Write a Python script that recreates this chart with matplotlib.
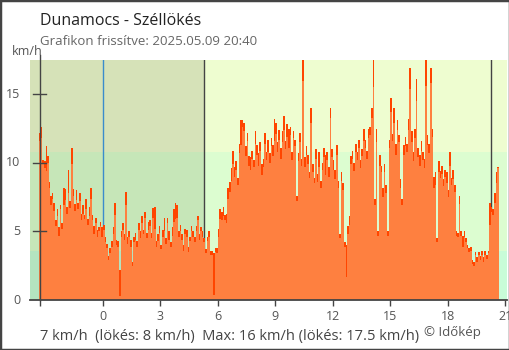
import numpy as np
import matplotlib
matplotlib.use("Agg")
import matplotlib.pyplot as plt
from matplotlib.patches import Rectangle
from matplotlib.lines import Line2D

plt.rcParams['font.family'] = ['Open Sans', 'DejaVu Sans']

# 5-minute wind data, 20:40 previous day -> 20:40 (hours relative to midnight)
start_hour = -10 / 3
step_hour = 5 / 60

speed = [
    11.6, 11.8, 9.9, 9.6, 9.4, 10.0, 8.2, 6.9, 7.4, 6.5, 5.4, 6.1,
    4.7, 6.6, 5.2, 6.9, 7.3, 6.3, 7.8, 6.7, 9.9, 7.6, 6.5, 7.3,
    6.6, 7.2, 5.8, 6.3, 5.9, 6.6, 5.5, 6.1, 7.4, 5.8, 4.8, 5.6,
    4.6, 5.0, 5.4, 4.6, 5.1, 4.2, 3.8, 2.9, 3.4, 3.9, 4.8, 6.2,
    4.0, 3.9, 0.3, 4.6, 5.1, 4.4, 6.9, 4.1, 4.6, 3.9, 2.5, 4.2,
    4.4, 3.9, 5.1, 4.5, 5.6, 4.8, 6.0, 4.5, 5.1, 5.4, 4.5, 6.0,
    5.2, 3.9, 4.3, 4.9, 3.7, 4.6, 5.0, 4.1, 5.6, 4.4, 3.9, 4.7,
    5.7, 5.9, 6.0, 4.6, 5.0, 4.4, 3.6, 4.8, 4.6, 3.5, 4.3, 5.0,
    4.6, 4.2, 5.0, 5.8, 4.4, 5.0, 4.6, 4.2, 3.4, 4.3, 4.6, 3.3,
    3.3, 0.4, 3.5, 3.4, 4.6, 5.9, 5.8, 6.1, 5.8, 5.6, 7.4, 7.9,
    8.7, 9.9, 9.0, 9.5, 8.4, 10.7, 11.3, 12.6, 12.3, 10.5, 11.6, 9.8,
    9.5, 10.3, 9.7, 11.4, 10.6, 9.8, 10.9, 9.1, 9.7, 11.4, 10.2, 10.8,
    10.0, 11.2, 10.5, 11.6, 12.1, 10.8, 11.7, 10.3, 11.5, 12.4, 11.0, 11.9,
    11.1, 12.0, 10.2, 11.8, 11.2, 7.2, 10.1, 11.5, 9.8, 16.0, 9.7, 10.6,
    9.9, 8.9, 12.9, 9.3, 8.5, 10.3, 8.6, 9.7, 8.2, 9.5, 10.4, 9.1,
    10.2, 9.0, 13.3, 10.4, 9.5, 8.8, 10.6, 8.2, 4.5, 8.7, 8.0, 3.9,
    1.7, 4.8, 5.5, 9.9, 10.3, 9.4, 10.8, 10.2, 11.1, 9.6, 10.5, 11.6,
    11.1, 10.3, 11.8, 12.0, 13.3, 15.5, 6.9, 11.5, 4.7, 9.8, 9.3, 7.5,
    9.3, 7.8, 4.7, 11.1, 13.7, 11.6, 12.9, 10.6, 12.4, 11.5, 8.2, 6.9,
    10.6, 11.2, 10.8, 12.4, 15.4, 11.5, 10.1, 11.8, 14.5, 10.4, 9.8, 10.9,
    10.2, 9.6, 15.6, 11.3, 10.7, 15.8, 11.9, 8.2, 8.4, 4.2, 9.3, 8.9,
    9.2, 8.3, 9.0, 8.5, 7.5, 9.8, 8.4, 8.8, 7.9, 4.7, 4.6, 7.0,
    4.7, 3.9, 4.6, 4.2, 3.8, 3.5, 3.6, 2.6, 2.5, 3.3, 2.8, 3.3,
    2.9, 3.3, 2.8, 3.3, 3.0, 3.4, 5.5, 6.4, 6.2, 7.1, 8.5, 9.6,
]

gust = [
    12.2, 12.6, 10.2, 10.1, 11.2, 10.5, 8.6, 7.6, 7.8, 7.1, 5.8, 6.6,
    5.3, 6.9, 5.6, 8.2, 8.1, 6.8, 9.5, 7.2, 11.1, 8.1, 7.0, 8.0,
    7.1, 7.8, 6.3, 6.9, 6.2, 7.4, 5.9, 6.8, 8.2, 6.2, 5.4, 6.0,
    5.1, 5.3, 5.7, 5.3, 5.5, 4.6, 4.1, 3.2, 3.8, 4.3, 5.3, 7.1,
    4.4, 4.3, 2.2, 5.0, 5.6, 4.8, 7.9, 4.6, 5.0, 4.4, 2.8, 4.6,
    4.9, 4.3, 5.6, 5.0, 6.1, 5.1, 6.4, 4.9, 5.7, 5.8, 4.9, 6.7,
    6.8, 4.3, 4.8, 5.4, 4.0, 5.1, 6.0, 4.5, 6.0, 5.0, 4.2, 5.3,
    6.6, 7.1, 6.9, 5.0, 5.5, 4.8, 4.0, 5.2, 5.1, 3.9, 4.6, 5.4,
    5.0, 4.6, 5.4, 6.1, 4.8, 5.3, 5.0, 4.5, 3.7, 4.6, 5.0, 3.6,
    3.6, 3.4, 3.8, 3.8, 5.2, 6.6, 6.4, 6.8, 6.2, 6.3, 8.2, 8.6,
    9.6, 10.9, 9.7, 10.1, 8.9, 11.4, 13.1, 13.1, 12.9, 11.2, 12.2, 10.5,
    10.4, 10.9, 10.2, 12.3, 11.3, 10.7, 11.5, 9.9, 10.3, 12.2, 10.8, 11.7,
    10.7, 11.8, 11.3, 13.2, 12.9, 11.5, 12.4, 11.1, 12.3, 13.4, 11.6, 12.8,
    12.5, 12.6, 10.8, 12.3, 11.7, 7.6, 10.7, 12.2, 10.3, 17.5, 10.4, 11.2,
    10.6, 9.3, 14.0, 9.9, 8.9, 11.0, 9.2, 10.8, 8.7, 10.0, 11.1, 10.6,
    10.8, 9.7, 14.0, 11.0, 10.2, 9.5, 11.3, 8.7, 4.8, 9.3, 8.5, 4.2,
    4.0, 5.4, 6.1, 10.5, 10.9, 10.0, 11.4, 10.8, 11.7, 10.2, 11.0, 12.5,
    11.7, 10.9, 12.5, 12.6, 14.0, 17.5, 7.4, 12.5, 5.0, 10.6, 9.8, 8.2,
    9.9, 8.4, 5.0, 11.7, 14.7, 12.1, 14.0, 11.4, 13.1, 12.0, 8.8, 7.4,
    11.3, 11.9, 11.4, 13.2, 16.9, 12.3, 10.8, 12.5, 16.1, 11.1, 10.6, 11.6,
    10.8, 10.3, 17.5, 12.0, 11.4, 16.9, 12.5, 9.0, 9.3, 4.5, 10.1, 9.4,
    9.8, 8.8, 9.5, 9.3, 8.0, 10.8, 8.9, 9.5, 8.4, 5.0, 4.9, 7.6,
    5.0, 4.7, 5.0, 4.5, 4.0, 3.8, 3.9, 2.9, 2.8, 3.5, 3.1, 3.5,
    3.2, 3.6, 3.1, 3.6, 3.3, 3.6, 7.1, 6.8, 6.6, 7.8, 9.3, 9.7,
]

sunrise = 5.28
sunset = 20.24
x_ticks = [0, 3, 6, 9, 12, 15, 18, 21]
y_ticks = [0, 5, 10, 15]
# wind bands: 0-1 m/s, 1-3 m/s, above 3 m/s (in km/h)
bands = [(0, 3.6), (3.6, 10.8), (10.8, 17.5)]
day_colors = ['#c8fcd8', '#dcfdd0', '#eefdd0']
night_colors = ['#b4e4c0', '#c6e6b8', '#d6e2b8']

avg_speed = 7
avg_gust = 8
max_speed = 16
max_gust = 17.5

times = start_hour + np.arange(len(speed)) * step_hour

fig = plt.figure(figsize=(5.1, 3.5), dpi=100)
ax = fig.add_axes([30 / 510, 50 / 350, 477 / 510, 240 / 350])
xmin, xmax = -3.81, 21.1
ax.set_xlim(xmin, xmax)
ax.set_ylim(0, 17.5)

for (y0, y1), dc, nc in zip(bands, day_colors, night_colors):
    ax.axhspan(y0, y1, color=dc, lw=0, zorder=0)
    ax.add_patch(Rectangle((xmin, y0), sunrise - xmin, y1 - y0,
                           facecolor=nc, lw=0, zorder=0.5))

ax.axvline(0, color='#3a8ccc', lw=1, zorder=1)
ax.axvline(sunrise, color='#444444', lw=1, zorder=1)
ax.axvline(sunset, color='#444444', lw=1, zorder=1)

ax.bar(times, gust, width=step_hour, align='edge', color='#ff4500',
       lw=0, zorder=2)
ax.bar(times, speed, width=step_hour, align='edge', color='#fe8040',
       lw=0, zorder=3)

for side in ['top', 'right', 'left']:
    ax.spines[side].set_visible(False)
ax.spines['bottom'].set_color('#444444')
ax.spines['bottom'].set_linewidth(1.3)
ax.spines['bottom'].set_zorder(5)

# y axis drawn at the first data point, reaching a little above the plot
ax.add_line(Line2D([start_hour + 0.03] * 2, [0, 17.85], color='#444444',
                   lw=1, clip_on=False, zorder=5))
for y in y_ticks[1:]:
    ax.add_line(Line2D([start_hour - 0.3, start_hour + 0.37], [y, y],
                       color='#444444', lw=1, clip_on=False, zorder=5))
for y in y_ticks:
    ax.text(-4.3, y, str(y), ha='right', va='center', fontsize=9,
            color='#555555', clip_on=False)
ax.set_yticks([])

ax.set_xticks([start_hour + 0.03] + x_ticks)
ax.set_xticklabels([''] + [str(v) for v in x_ticks])
ax.tick_params(axis='x', direction='out', length=4.5, width=1,
               color='#444444', labelsize=9, labelcolor='#555555', pad=3)

fig.text(40 / 510, 1 - 25 / 350, 'Dunamocs - Széllökés', fontsize=11.5,
         color='#222222', va='baseline')
fig.text(40 / 510, 1 - 45 / 350, 'Grafikon frissítve: 2025.05.09 20:40',
         fontsize=9.5, color='#666666', va='baseline')
fig.text(12 / 510, 1 - 55 / 350, 'km/h', fontsize=9, color='#555555',
         va='baseline')

summary = (f'{avg_speed} km/h  (lökés: {avg_gust} km/h)  '
           f'Max: {max_speed} km/h (lökés: {max_gust} km/h)')
fig.text(40 / 510, 1 - 340 / 350, summary, fontsize=10.5,
         color='#444444', va='baseline')
fig.text(424 / 510, 1 - 336 / 350, '© Időkép', fontsize=9.5,
         color='#555555', va='baseline')

# frame around the whole image
fig.add_artist(Rectangle((0, 0), 1, 1, transform=fig.transFigure,
                         fill=False, edgecolor='#444444', lw=2.5))

fig.savefig('out.png', dpi=100)
